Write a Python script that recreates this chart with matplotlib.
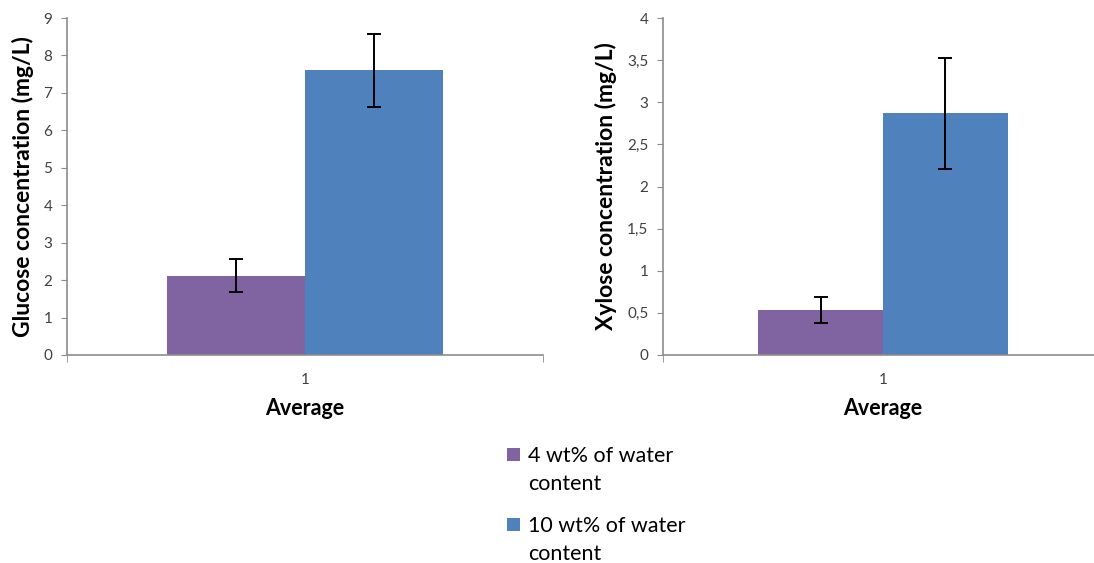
import matplotlib
matplotlib.use("Agg")
import matplotlib.pyplot as plt
from matplotlib.patches import Rectangle
from matplotlib.ticker import FuncFormatter

plt.rcParams["font.family"] = ["Lato", "DejaVu Sans"]

# Data
series_labels = ["4 wt% of water\ncontent", "10 wt% of water\ncontent"]
series_colors = ["#8064a2", "#4f81bd"]
category = "1"

glucose_means = [2.12, 7.6]
glucose_errs = [0.45, 0.97]

xylose_means = [0.535, 2.87]
xylose_errs = [0.155, 0.66]

axis_grey = "#8c8c8c"
text_grey = "#404040"

W, H = 1094, 563


def draw_panel(ax, means, errs, ymax, ystep, ylabel, bar_w, comma=False):
    offsets = [-bar_w / 2, bar_w / 2]
    for off, m, e, c in zip(offsets, means, errs, series_colors):
        ax.bar(off, m, width=bar_w, color=c, edgecolor="none")
        ax.errorbar(off, m, yerr=e, fmt="none", ecolor="black",
                    elinewidth=1.4, capsize=5, capthick=1.4)
    ax.set_xlim(-0.5, 0.5)
    ax.set_ylim(0, ymax)
    ax.set_yticks([i * ystep for i in range(int(round(ymax / ystep)) + 1)])
    if comma:
        ax.yaxis.set_major_formatter(
            FuncFormatter(lambda v, p: f"{v:g}".replace(".", ",")))
    ax.set_xticks([0])
    ax.set_xticklabels([category])
    ax.set_xticks([-0.5, 0.5], minor=True)
    ax.tick_params(axis="x", which="major", length=0, pad=13,
                   labelsize=11, labelcolor=text_grey)
    ax.tick_params(axis="x", which="minor", length=5, color=axis_grey)
    ax.tick_params(axis="y", length=4.5, color=axis_grey, labelsize=11,
                   labelcolor=text_grey, pad=6)
    for s in ["top", "right"]:
        ax.spines[s].set_visible(False)
    for s in ["left", "bottom"]:
        ax.spines[s].set_color(axis_grey)
        ax.spines[s].set_linewidth(1.2)
    ax.set_ylabel(ylabel, fontsize=16.5, fontweight="bold", color="black")
    ax.set_xlabel("Average", fontsize=15.5, fontweight="bold", color="black",
                  labelpad=8)


fig = plt.figure(figsize=(W / 100, H / 100), dpi=100)
ax1 = fig.add_axes([67 / W, 1 - 355 / H, 476 / W, 337 / H])
ax2 = fig.add_axes([663 / W, 1 - 355 / H, 440 / W, 337 / H])

draw_panel(ax1, glucose_means, glucose_errs, 9, 1,
           "Glucose concentration (mg/L)", 0.29)
draw_panel(ax2, xylose_means, xylose_errs, 4, 0.5,
           "Xylose concentration (mg/L)", 0.284, comma=True)
ax1.yaxis.set_label_coords(-0.07, 0.5)
ax2.yaxis.set_label_coords(-0.104, 0.5)

# legend drawn by hand: square aligned with the first line of each label
for i, (lab, c) in enumerate(zip(series_labels, series_colors)):
    base = 462 + i * 70
    fig.add_artist(Rectangle((507 / W, 1 - (base - 1) / H), 13 / W, 13 / H,
                             transform=fig.transFigure, facecolor=c,
                             edgecolor="none"))
    for j, line in enumerate(lab.split("\n")):
        fig.text(528 / W, 1 - (base + j * 28) / H, line, fontsize=15.5,
                 color="black", ha="left", va="baseline")

fig.savefig("out.png", dpi=100)
